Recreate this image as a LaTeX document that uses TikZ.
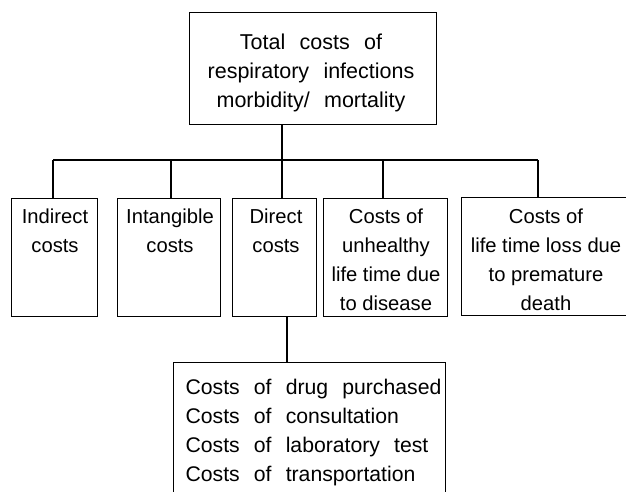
\documentclass[tikz,border=0pt]{standalone}
\usepackage{fontspec}
\setmainfont{Liberation Sans}
\newfontfamily\topsans[WordSpace=2.5]{Liberation Sans}
\newfontfamily\listsans[WordSpace=2.4]{Liberation Sans}
\begin{document}
\begin{tikzpicture}[x=1pt,y=-1pt,
  line width=1.3pt,
  box/.style={draw, line width=1.3pt, inner sep=0pt, anchor=north west},
  rowtext/.style={inner sep=0pt, anchor=north, align=center,
    font=\fontsize{20.2}{29}\selectfont},
  toptext/.style={inner sep=0pt, anchor=north, align=center,
    font=\topsans\fontsize{21.5}{29}\selectfont},
  listtext/.style={inner sep=0pt, anchor=north west, align=left,
    font=\listsans\fontsize{21.2}{29.3}\selectfont},
]
\clip (0,0) rectangle (626,492);

% top box
\node[box, minimum width=247, minimum height=112] (total) at (189,12) {};
\node[toptext] (total-t) at (311,33.5)
  {Total costs of\\respiratory infections\\morbidity/ mortality};

% row of cost categories
\node[box, minimum width=86,  minimum height=118] (ind)    at (11,198)  {};
\node[box, minimum width=103, minimum height=118] (intang) at (117,198) {};
\node[box, minimum width=84,  minimum height=118] (direct) at (232,198) {};
\node[box, minimum width=124, minimum height=118] (unh)    at (323,198) {};
\node[box, minimum width=175, minimum height=118] (loss)   at (461,197) {};

\node[rowtext] (ind-t)    at (55,208.5)  {Indirect\\costs};
\node[rowtext] (intang-t) at (170,208.5) {Intangible\\costs};
\node[rowtext] (direct-t) at (276,208.5) {Direct\\costs};
\node[rowtext] (unh-t)    at (386,208.5) {Costs of\\unhealthy\\life time due\\to disease};
\node[rowtext] (loss-t)   at (546,208.5) {Costs of\\life time loss due\\to premature\\death};

% breakdown of direct costs
\node[box, minimum width=272, minimum height=150] (detail) at (173,362) {};
\node[listtext] (detail-t) at (185,378)
  {Costs of drug purchased\\Costs of consultation\\Costs of laboratory test\\Costs of transportation};

% connectors
\coordinate (d1) at (53,160);
\coordinate (d2) at (171,160);
\coordinate (d3) at (282,160);
\coordinate (d4) at (383,160);
\coordinate (d5) at (538,160);
\coordinate (s)  at (287,340);

\draw (total.south -| d3) -- (d3);
\draw (d1) -- (d5);
\draw (d1) -- (d1 |- ind.north);
\draw (d2) -- (d2 |- intang.north);
\draw (d3) -- (d3 |- direct.north);
\draw (d4) -- (d4 |- unh.north);
\draw (d5) -- (d5 |- loss.north);
\draw (direct.south -| s) -- (detail.north -| s);
\end{tikzpicture}
\end{document}
